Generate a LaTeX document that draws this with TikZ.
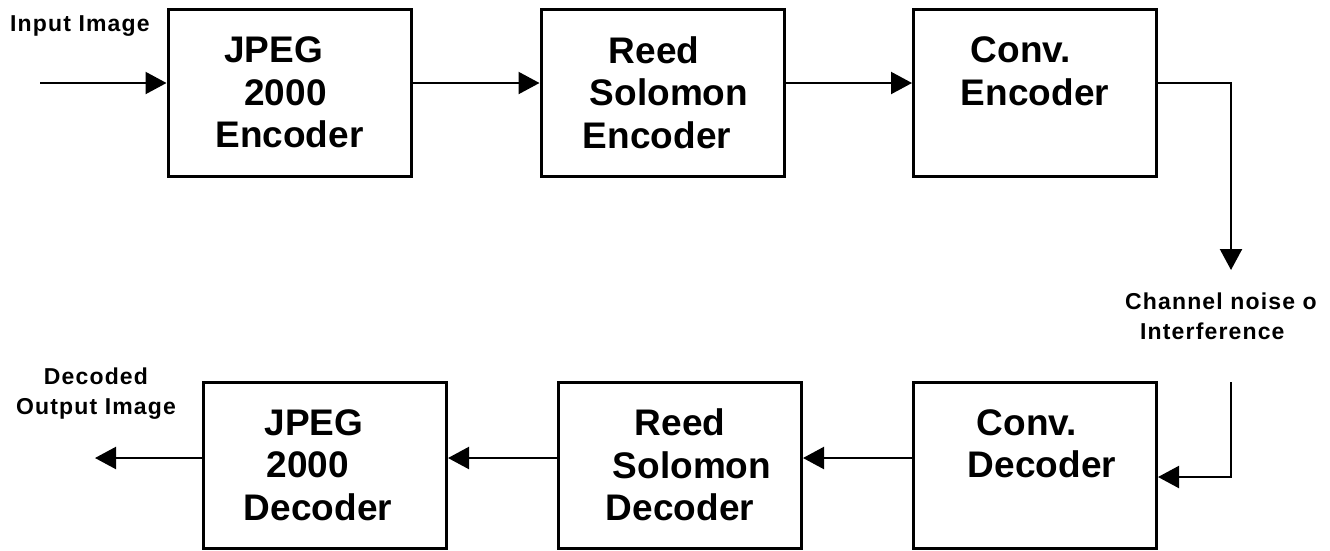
\documentclass[tikz,border=0pt]{standalone}
\usepackage{fontspec}
\setmainfont{Liberation Sans}
\usetikzlibrary{arrows.meta}
% invisible horizontal padding used to nudge single lines inside centred blocks
\newcommand\lpad[1]{\rule{#1}{0pt}}
\begin{document}
\begin{tikzpicture}[x=1pt,y=-1pt,
  block/.style={draw, line width=3pt, minimum width=243pt, minimum height=167pt,
    inner sep=0pt, align=center, font=\fontsize{37}{42.5}\selectfont\bfseries},
  flow/.style={line width=2.2pt, -{Triangle[length=21pt,width=22pt]}},
  lbl/.style={inner sep=0pt, font=\fontsize{23}{30}\selectfont\bfseries\addfontfeature{LetterSpace=5}}]
\useasboundingbox (0,0) rectangle (1330,550);

% encoder chain
\node[block] (jenc)  at (289.5,92.5) {JPEG\lpad{32pt}\\2000\lpad{8pt}\\Encoder};
\node[block] (rsenc) at (662.5,92.5) {Reed\lpad{17pt}\\\lpad{13pt}Solomon\\Encoder\lpad{11pt}};
\node[block] (cenc)  at (1035,92.5)  {Conv.\lpad{28pt}\\Encoder\\\mbox{}};

% decoder chain
\node[block, minimum height=166pt] (cdec)  at (1035,465) {Conv.\lpad{16pt}\\\lpad{14pt}Decoder\\\mbox{}};
\node[block, minimum height=166pt] (rsdec) at (680,465)  {Reed\\\lpad{24pt}Solomon\\Decoder};
\node[block, minimum height=166pt] (jdec)  at (325,465)  {JPEG\lpad{22pt}\\2000\lpad{34pt}\\Decoder\lpad{14pt}};

% free ends of the signal path
\coordinate (src)   at (40,83);
\coordinate (noise) at (1231,270);
\coordinate (ret)   at (1231,382);
\coordinate (sink)  at (95,458);

% labels
\node[lbl, anchor=north west] (inlbl) at (10,15) {Input Image};
\node[lbl, anchor=north west, align=left] (chlbl) at (1125,293) {Channel noise o\\\lpad{15pt}Interference};
\node[lbl, anchor=north, align=center] (outlbl) at (96,368) {Decoded\\Output Image};

% connectors
\draw[flow] (src) -- (jenc.west |- src);
\draw[flow] (jenc.east |- src) -- (rsenc.west |- src);
\draw[flow] (rsenc.east |- src) -- (cenc.west |- src);
\draw[flow] (cenc.east |- src) -| (noise);
\draw[flow] (ret) |- ([yshift=-12pt]cdec.east);
\draw[flow] (cdec.west |- sink) -- (rsdec.east |- sink);
\draw[flow] (rsdec.west |- sink) -- (jdec.east |- sink);
\draw[flow] (jdec.west |- sink) -- (sink);
\end{tikzpicture}
\end{document}
